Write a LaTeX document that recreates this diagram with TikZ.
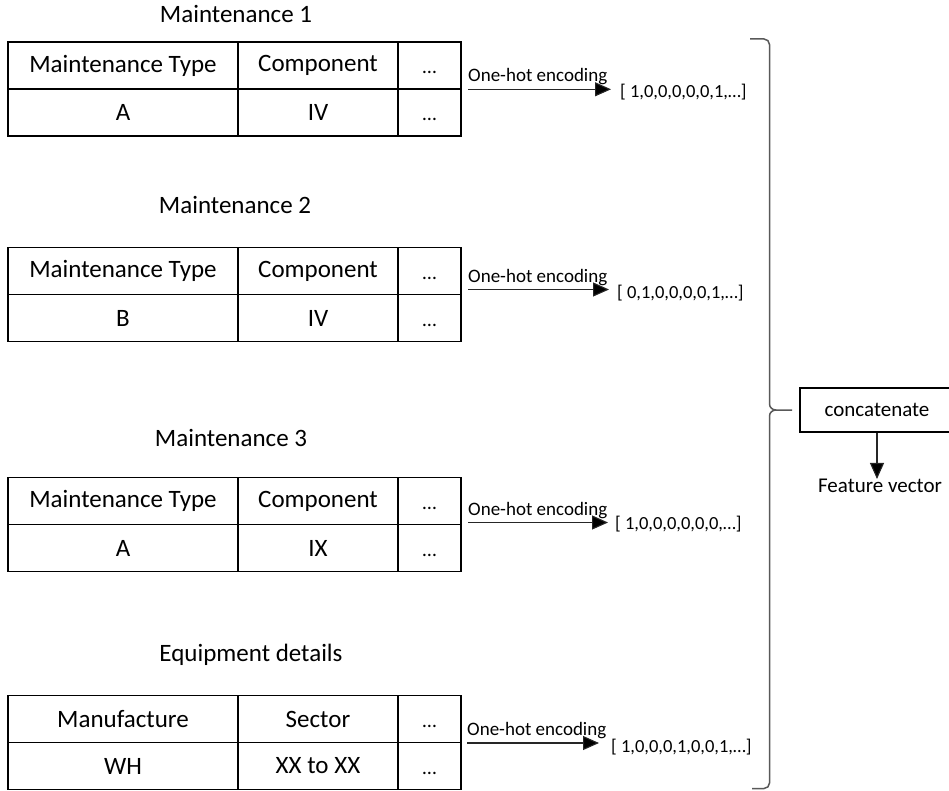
\documentclass[tikz,border=0pt]{standalone}
\usepackage{fontspec}
\setmainfont{Carlito}
\usetikzlibrary{arrows.meta}
\newcommand\mktab[6]{%
  \path (123,#2+23.5)   node[cell,minimum width=230pt] (#1h1) {#3}
        (318,#2+23.5)   node[cell,minimum width=160pt] (#1h2) {#4}
        (429.5,#2+23.5) node[dotcell,minimum width=63pt] (#1h3) {…}
        (123,#2+70.5)   node[cell,minimum width=230pt] (#1v1) {#5}
        (318,#2+70.5)   node[cell,minimum width=160pt] (#1v2) {#6}
        (429.5,#2+70.5) node[dotcell,minimum width=63pt] (#1v3) {…};%
}
\begin{document}
\begin{tikzpicture}[x=1pt,y=-1pt,
  cell/.style={draw=black, line width=1.6pt, minimum height=47pt, inner sep=0pt,
    font=\fontsize{25}{30}\selectfont, text=black},
  dotcell/.style={cell, font=\fontsize{20}{24}\selectfont, text height=17pt, text depth=0pt},
  title/.style={font=\fontsize{25}{30}\selectfont, inner sep=0pt},
  enc/.style={draw=black!85, line width=1.1pt, -{Triangle[length=16pt,width=14pt,fill=black]}},
  enclab/.style={font=\fontsize{19}{23}\selectfont, inner sep=0pt, anchor=south west, yshift=4pt},
  vec/.style={font=\fontsize{18.5}{22}\selectfont, inner sep=0pt, anchor=west},
  bracestyle/.style={draw=black!65, line width=1.5pt},
  concbox/.style={draw=black, line width=1.6pt, minimum width=154pt, minimum height=44pt,
    inner sep=0pt, font=\fontsize{21}{25}\selectfont},
  fvlab/.style={font=\fontsize{21}{25}\selectfont, inner sep=0pt}
]
\useasboundingbox (0,0) rectangle (949,791);

% titles
\node[title] (ti1) at (236,14) {Maintenance 1};
\node[title] (ti2) at (235,205) {Maintenance 2};
\node[title] (ti3) at (231,438) {Maintenance 3};
\node[title] (ti4) at (251,655) {Equipment details};

% tables
\mktab{ta}{42}{Maintenance Type}{Component}{A}{IV}
\mktab{tb}{247.5}{Maintenance Type}{Component}{B}{IV}
\mktab{tc}{477.5}{Maintenance Type}{Component}{A}{IX}
\mktab{td}{695.5}{Manufacture}{Sector}{WH}{XX to XX}

% encodings
\coordinate (sa) at (468,89.3);
\coordinate (sb) at (468,289.5);
\coordinate (sc) at (468,522.5);
\coordinate (sd) at (467,743);
\node[vec] (va) at (620,92) {[ 1,0,0,0,0,0,1,…]};
\node[vec] (vb) at (617,293) {[ 0,1,0,0,0,0,1,…]};
\node[vec] (vc) at (615,524) {[ 1,0,0,0,0,0,0,…]};
\node[vec] (vd) at (611,747) {[ 1,0,0,0,1,0,0,1,…]};
\draw[enc] (sa) -- ([xshift=-9pt]sa -| va.west);
\draw[enc] (sb) -- ([xshift=-8pt]sb -| vb.west);
\draw[enc] (sc) -- ([xshift=-7pt]sc -| vc.west);
\draw[enc] (sd) -- ([xshift=-12pt]sd -| vd.west);
\node[enclab] (la) at (sa) {One-hot encoding};
\node[enclab] (lb) at (sb) {One-hot encoding};
\node[enclab] (lc) at (sc) {One-hot encoding};
\node[enclab] (ld) at (sd) {One-hot encoding};

% brace
\draw[bracestyle] (750,39) -- (764,39) to[out=0,in=90] (769.5,44.5) -- (769.5,404)
  to[out=-90,in=180] (776,410) -- (792,410);
\draw[bracestyle] (776,410) to[out=180,in=90] (769.5,416) -- (769.5,783)
  to[out=-90,in=0] (764,788.5) -- (752,788.5);

% concatenate
\node[concbox] (conc) at (877,410) {concatenate};
\node[fvlab] (fv) at (880,486) {Feature vector};
\draw[enc] (conc.south) -- (conc.south |- fv.north);
\end{tikzpicture}
\end{document}
